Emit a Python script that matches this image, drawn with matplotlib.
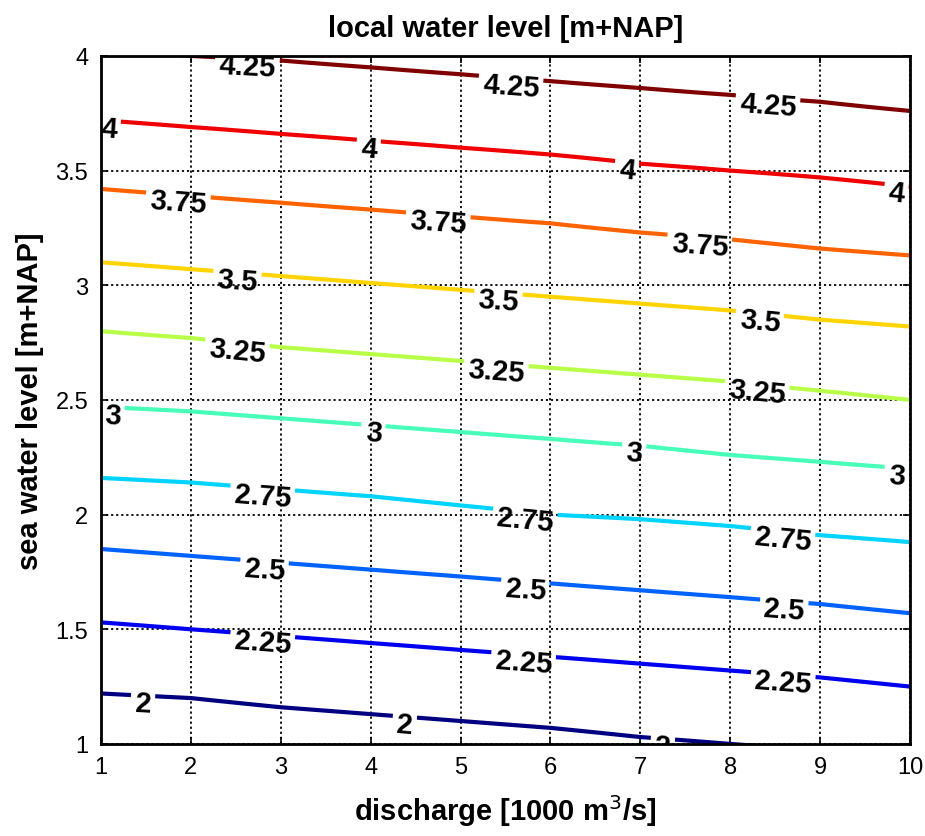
import numpy as np
import matplotlib.pyplot as plt
from matplotlib.transforms import ScaledTranslation

plt.rcParams['font.family'] = ['Liberation Sans', 'DejaVu Sans']

# discharge [1000 m3/s] at which the contour heights were read
discharge = np.arange(1, 11)

# local water level contour values
levels = [1.75, 2.0, 2.25, 2.5, 2.75, 3.0, 3.25, 3.5, 3.75, 4.0, 4.25, 4.5]

# sea water level [m+NAP] where each contour crosses discharge = 1..10
y_175 = [0.91, 0.88, 0.85, 0.82, 0.79, 0.76, 0.73, 0.70, 0.67, 0.64]
y_200 = [1.22, 1.20, 1.16, 1.13, 1.10, 1.07, 1.03, 1.00, 0.97, 0.94]
y_225 = [1.53, 1.50, 1.47, 1.44, 1.41, 1.38, 1.35, 1.32, 1.29, 1.25]
y_250 = [1.85, 1.82, 1.79, 1.76, 1.73, 1.70, 1.67, 1.64, 1.61, 1.57]
y_275 = [2.16, 2.14, 2.11, 2.08, 2.04, 2.00, 1.98, 1.95, 1.91, 1.88]
y_300 = [2.47, 2.45, 2.42, 2.39, 2.36, 2.33, 2.30, 2.26, 2.23, 2.20]
y_325 = [2.80, 2.77, 2.73, 2.70, 2.67, 2.64, 2.61, 2.58, 2.54, 2.50]
y_350 = [3.10, 3.07, 3.04, 3.01, 2.98, 2.95, 2.92, 2.89, 2.85, 2.82]
y_375 = [3.42, 3.39, 3.36, 3.33, 3.30, 3.27, 3.23, 3.20, 3.16, 3.13]
y_400 = [3.72, 3.69, 3.66, 3.63, 3.60, 3.57, 3.53, 3.50, 3.47, 3.43]
y_425 = [4.03, 4.00, 3.98, 3.95, 3.92, 3.89, 3.86, 3.83, 3.80, 3.76]
y_450 = [4.33, 4.30, 4.28, 4.25, 4.22, 4.19, 4.16, 4.13, 4.10, 4.06]

# where the labels sit (discharge, sea level)
label_pos = [(2.63, 3.98), (5.56, 3.89), (8.42, 3.82),
             (1.09, 3.72), (3.98, 3.63), (6.85, 3.53), (9.85, 3.44),
             (1.86, 3.38), (4.75, 3.29), (7.66, 3.21),
             (2.52, 3.05), (5.42, 2.96), (8.33, 2.88),
             (2.52, 2.75), (5.40, 2.66), (8.30, 2.57),
             (1.13, 2.47), (4.03, 2.38), (6.93, 2.29), (9.85, 2.20),
             (2.80, 2.11), (5.72, 2.01), (8.59, 1.94),
             (2.82, 1.79), (5.72, 1.70), (8.60, 1.62),
             (2.80, 1.47), (5.70, 1.38), (8.59, 1.31),
             (1.47, 1.21), (4.38, 1.11), (7.25, 1.02)]

# MATLAB-style jet colours, one per drawn level (2 .. 4.25)
line_colors = ['#000080', '#0000f0', '#0063ff', '#00d4ff', '#47ffb8',
               '#b8ff47', '#ffd400', '#ff6300', '#f00000', '#800000']

table = np.array([y_175, y_200, y_225, y_250, y_275, y_300,
                  y_325, y_350, y_375, y_400, y_425, y_450])
sea = np.linspace(0.95, 4.05, 311)
Z = np.empty((len(sea), len(discharge)))
for j in range(len(discharge)):
    Z[:, j] = np.interp(sea, table[:, j], levels)

fig = plt.figure(figsize=(9.25, 8.37), dpi=100)
ax = fig.add_axes([0.109, 0.110, 0.875, 0.822])

draw_levels = levels[1:-1]
cs = ax.contour(discharge, sea, Z, levels=draw_levels, colors=line_colors,
                linewidths=3)
ax.clabel(cs, fmt='%g', fontsize=21, inline=True, inline_spacing=4,
          manual=label_pos, colors='k')
shift = ScaledTranslation(0, -5.5 / 72, fig.dpi_scale_trans)
for t in cs.labelTexts:
    t.set_fontweight('bold')
    t.set_transform(t.get_transform() + shift)

ax.set_xlim(1, 10)
ax.set_ylim(1, 4)
ax.set_xticks(range(1, 11))
ax.set_yticks([1, 1.5, 2, 2.5, 3, 3.5, 4])
ax.set_yticklabels(['1', '1.5', '2', '2.5', '3', '3.5', '4'])
ax.tick_params(direction='in', labelsize=17, top=True, right=True,
               length=5, width=1.2, pad=9)
ax.grid(True, color='k', linestyle=(0, (1.2, 1.6)), linewidth=1.3)
for s in ax.spines.values():
    s.set_linewidth(2)

ax.set_title('local water level [m+NAP]', fontsize=21, fontweight='bold', pad=14)
ax.set_xlabel('discharge [1000 m$^3$/s]', fontsize=21, fontweight='bold', labelpad=10)
ax.set_ylabel('sea water level [m+NAP]', fontsize=21, fontweight='bold', labelpad=8)

fig.savefig('out.png', dpi=100)
